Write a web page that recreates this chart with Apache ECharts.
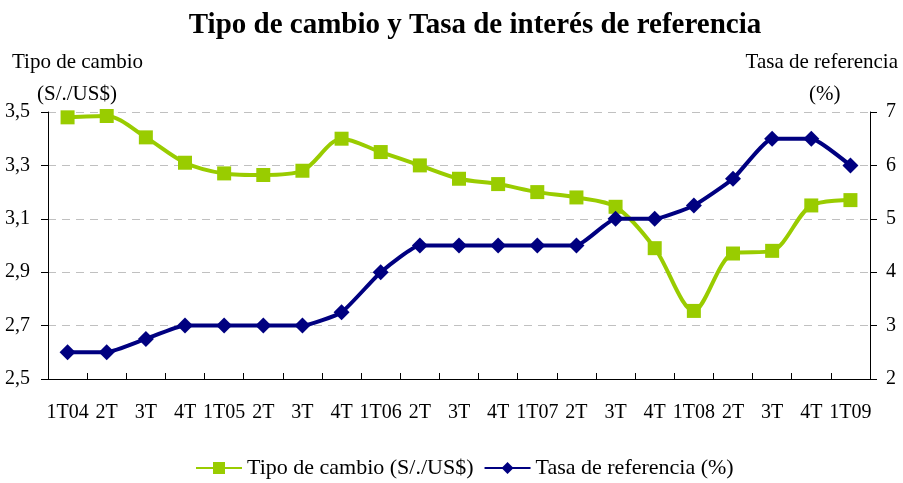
<!DOCTYPE html>
<html><head><meta charset="utf-8">
<script src="https://cdn.jsdelivr.net/npm/echarts@6/dist/echarts.min.js"></script>
<style>html,body{margin:0;padding:0;background:#fff}#c{width:903px;height:483px}</style>
</head><body><div id="c"></div>
<script>
const categories = ['1T04','2T','3T','4T','1T05','2T','3T','4T','1T06','2T','3T','4T','1T07','2T','3T','4T','1T08','2T','3T','4T','1T09'];
const tipoCambio = [3.48,3.485,3.405,3.31,3.27,3.264,3.28,3.40,3.35,3.30,3.25,3.23,3.20,3.18,3.145,2.99,2.755,2.97,2.98,3.15,3.17];
const tasaRef = [2.5,2.5,2.75,3.0,3.0,3.0,3.0,3.25,4.0,4.5,4.5,4.5,4.5,4.5,5.0,5.0,5.25,5.75,6.5,6.5,6.0];
const leftTicks = {min:2.5,max:3.5,interval:0.2};
const rightTicks = {min:2,max:7,interval:1};

const FONT = '"Liberation Serif", "DejaVu Serif", serif';
const chart = echarts.init(document.getElementById('c'));
chart.setOption({
  animation:false,
  textStyle:{fontFamily:FONT},
  title:{text:'Tipo de cambio y Tasa de interés de referencia',left:470,textAlign:'center',top:6,
    textStyle:{fontFamily:FONT,fontSize:29,fontWeight:'bold',color:'#000'}},
  grid:{left:48,right:33,top:112,bottom:104},
  legend:{bottom:-1,left:190,itemGap:10,itemWidth:46,itemHeight:15,
    textStyle:{fontFamily:FONT,fontSize:22,color:'#000'},
    data:['Tipo de cambio (S/./US$)','Tasa de referencia (%)']},
  graphic:[
    {type:'text',left:12,top:52,style:{text:'Tipo de cambio',font:'21px '+FONT,fill:'#000'}},
    {type:'text',left:37,top:84,style:{text:'(S/./US$)',font:'21px '+FONT,fill:'#000'}},
    {type:'text',right:5,top:52,style:{text:'Tasa de referencia',font:'21px '+FONT,fill:'#000'}},
    {type:'text',left:809,top:84,style:{text:'(%)',font:'21px '+FONT,fill:'#000'}}
  ],
  xAxis:{type:'category',data:categories,boundaryGap:true,
    axisLine:{lineStyle:{color:'#000',width:1}},
    axisTick:{show:true,length:6,inside:true,lineStyle:{color:'#000'}},
    axisLabel:{interval:0,margin:24,fontFamily:FONT,fontSize:20,color:'#000'}},
  yAxis:[
    {type:'value',min:leftTicks.min,max:leftTicks.max,interval:leftTicks.interval,
      axisLine:{show:true,lineStyle:{color:'#000'}},
      axisTick:{show:true,length:7,inside:false,lineStyle:{color:'#000'}},
      axisLabel:{formatter:v=>v.toFixed(1).replace('.',','),fontFamily:FONT,fontSize:20,color:'#000',margin:18},
      splitLine:{show:true,lineStyle:{color:'#c0c0c0',type:[8,6],width:1}}},
    {type:'value',min:rightTicks.min,max:rightTicks.max,interval:rightTicks.interval,position:'right',
      axisLine:{show:true,lineStyle:{color:'#000'}},
      axisTick:{show:true,length:7,inside:false,lineStyle:{color:'#000'}},
      axisLabel:{fontFamily:FONT,fontSize:20,color:'#000',margin:16},
      splitLine:{show:false}}
  ],
  series:[
    {name:'Tipo de cambio (S/./US$)',type:'line',data:tipoCambio,yAxisIndex:0,smooth:0.3,
      symbol:'rect',symbolSize:14,
      lineStyle:{color:'#99CC00',width:4},itemStyle:{color:'#99CC00'},z:2},
    {name:'Tasa de referencia (%)',type:'line',data:tasaRef,yAxisIndex:1,smooth:0.15,
      symbol:'diamond',symbolSize:16,
      lineStyle:{color:'#000080',width:4},itemStyle:{color:'#000080'},z:3}
  ]
});
</script></body></html>
